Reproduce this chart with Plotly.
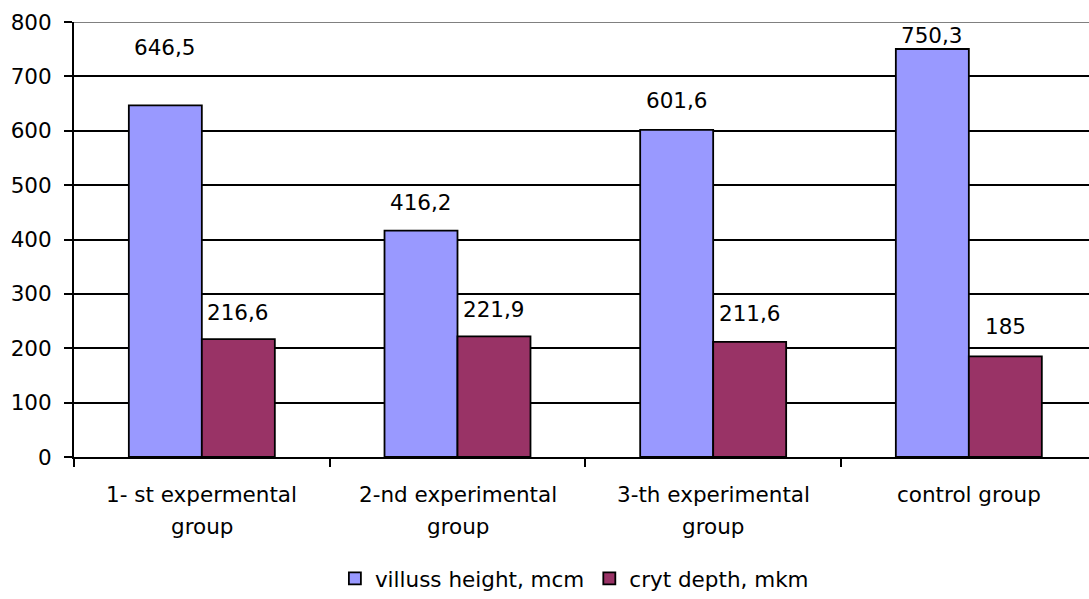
import plotly.graph_objects as go

# Data
categories = ["1- st expermental group", "2-nd experimental group",
              "3-th experimental group", "control group"]
cat_lines = [["1- st expermental", "group"], ["2-nd experimental", "group"],
             ["3-th experimental", "group"], ["control group"]]
villus_height = [646.5, 416.2, 601.6, 750.3]
crypt_depth = [216.6, 221.9, 211.6, 185]
series_names = ["villuss height, mcm", "cryt depth, mkm"]
y_ticks = [0, 100, 200, 300, 400, 500, 600, 700, 800]

# Label placement (pixels above bar top), per series
label_lift = [[58, 28, 29, 14], [27, 27, 28, 30]]

FONT = "DejaVu Sans, Liberation Sans, Arial, sans-serif"
FS = 21.5
W, H = 1089, 599
L, R, T, B = 74, 0, 22, 141


def fmt(v):
    return str(int(v)) if float(v).is_integer() else f"{v:.1f}".replace(".", ",")


fig = go.Figure()
colors = ["#9999FF", "#993366"]
for name, vals, col in zip(series_names, [villus_height, crypt_depth], colors):
    fig.add_trace(go.Bar(
        x=categories, y=vals, name=name,
        marker=dict(color=col, line=dict(color="black", width=1.8)),
    ))

annotations = []
bar_half = 36.5
for si, vals in enumerate([villus_height, crypt_depth]):
    for ci, v in enumerate(vals):
        annotations.append(dict(
            x=categories[ci], y=v, xref="x", yref="y",
            text=fmt(v), showarrow=False, yanchor="middle",
            xshift=(-bar_half if si == 0 else bar_half),
            yshift=label_lift[si][ci],
            font=dict(family=FONT, size=FS, color="black"),
        ))

# Category labels (two lines each)
for ci, lines in enumerate(cat_lines):
    for li, line in enumerate(lines):
        annotations.append(dict(
            x=categories[ci], y=0, xref="x", yref="y",
            text=line, showarrow=False, yanchor="middle",
            yshift=-(37 + 32 * li),
            font=dict(family=FONT, size=FS, color="black"),
        ))

fig.update_layout(
    width=W, height=H,
    margin=dict(l=L, r=R, t=T, b=B, pad=0),
    paper_bgcolor="white", plot_bgcolor="white",
    barmode="group", bargap=0.429, bargroupgap=0,
    font=dict(family=FONT, size=FS, color="black"),
    showlegend=True,
    legend=dict(orientation="h", x=0.493, xanchor="center", y=-0.28,
                yanchor="middle", font=dict(family=FONT, size=FS),
                itemwidth=30, tracegroupgap=0),
    annotations=annotations,
)
fig.update_xaxes(
    type="category", range=[-0.5, 3.47],
    showticklabels=False, ticks="outside", tickson="boundaries",
    ticklen=8, tickwidth=2, tickcolor="black",
    showline=True, linecolor="black", linewidth=2,
    showgrid=False, zeroline=False,
)
fig.update_yaxes(
    range=[0, 800], tickvals=y_ticks,
    ticks="outside", ticklen=8, tickwidth=2, tickcolor="black",
    ticklabelstandoff=8,
    showline=True, linecolor="black", linewidth=2,
    showgrid=True, gridcolor="black", gridwidth=1.6,
    zeroline=False, tickfont=dict(family=FONT, size=FS),
)
fig.add_shape(type="line", xref="paper", yref="y", x0=0, x1=1, y0=800, y1=800,
              line=dict(color="#808080", width=2), layer="above")

fig.write_html("out.html")
